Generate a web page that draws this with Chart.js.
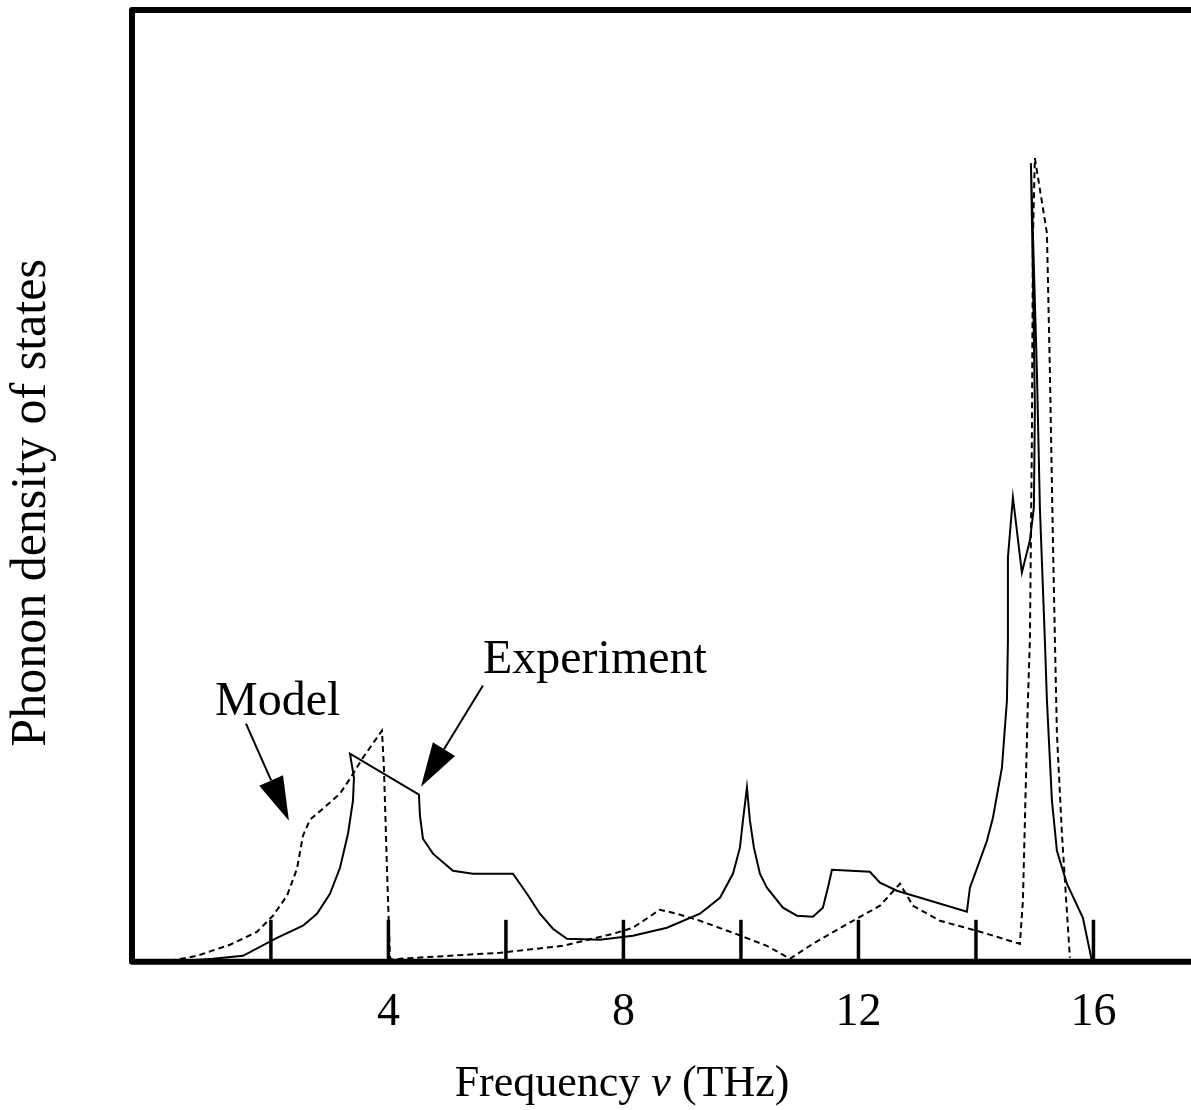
<!DOCTYPE html>
<html>
<head>
<meta charset="utf-8">
<script src="https://cdn.jsdelivr.net/npm/chart.js@4.4.0/dist/chart.umd.min.js"></script>
<style>
  html, body { margin: 0; padding: 0; background: #ffffff; }
  #wrap { width: 1191px; height: 1110px; position: relative; }
</style>
</head>
<body>
<div id="wrap"><canvas id="c" width="1191" height="1110"></canvas></div>
<script>
// ---- Data (frequency in THz, density in arbitrary units) ----
const experimentX = [0.538, 1.014, 1.525, 2.103, 2.546, 2.784, 3.005, 3.176, 3.312, 3.397, 3.414, 3.346,
  4.520, 4.537, 4.588, 4.758, 5.099, 5.439, 6.120, 6.358, 6.579, 6.800, 7.039, 7.600, 8.162, 8.741,
  9.302, 9.643, 9.864, 9.983, 10.034, 10.102, 10.153, 10.221, 10.323, 10.442, 10.715, 10.953, 11.225,
  11.395, 11.480, 11.549, 12.195, 12.366, 12.655, 13.846, 13.897, 14.016, 14.187, 14.289, 14.442,
  14.527, 14.544, 14.544, 14.629, 14.782, 14.918, 14.986, 15.003, 14.969, 14.935, 15.038, 15.088,
  15.173, 15.208, 15.293, 15.378, 15.548, 15.820, 15.973];
const experimentY = [0.011, 0.032, 0.063, 0.252, 0.379, 0.505, 0.715, 0.988, 1.346, 1.693, 1.935, 2.187,
  1.756, 1.535, 1.293, 1.136, 0.957, 0.925, 0.925, 0.715, 0.505, 0.347, 0.242, 0.231, 0.273, 0.358,
  0.505, 0.673, 0.925, 1.199, 1.483, 1.830, 1.483, 1.199, 0.925, 0.778, 0.568, 0.484, 0.473,
  0.568, 0.778, 0.967, 0.946, 0.831, 0.747, 0.526, 0.778, 0.978, 1.272, 1.514, 2.040,
  2.744, 3.375, 4.248, 4.879, 4.090, 4.427, 4.774, 5.825, 7.234, 8.391, 6.183, 4.774,
  3.375, 2.744, 1.693, 1.167, 0.820, 0.463, 0.011];

const modelX = [0.283, 0.742, 1.304, 1.763, 2.035, 2.274, 2.444, 2.546, 2.665, 2.886, 3.176, 3.346,
  3.567, 3.890, 3.924, 3.975, 4.027, 4.078, 4.197, 5.899, 6.971, 7.822, 8.162, 8.621, 8.911, 9.302,
  9.864, 10.442, 10.834, 11.225, 11.906, 12.366, 12.706, 12.927, 13.387, 14.016, 14.748, 14.799,
  14.884, 14.918, 14.952, 14.969, 15.003, 15.208, 15.259, 15.310, 15.344, 15.378, 15.463, 15.599];
const modelY = [0.011, 0.063, 0.179, 0.315, 0.484, 0.694, 0.978, 1.325, 1.493, 1.609, 1.767, 1.924,
  2.145, 2.429, 2.040, 0.988, 0.042, 0.021, 0.032, 0.095, 0.168, 0.294, 0.358, 0.547, 0.505, 0.431,
  0.305, 0.168, 0.032, 0.189, 0.431, 0.589, 0.820, 0.589, 0.431, 0.326, 0.189, 0.641,
  2.744, 3.375, 5.478, 7.582, 8.444, 7.655, 6.183, 4.427, 3.375, 2.397, 1.346, 0.042];

const tickValues = [2, 4, 6, 8, 10, 12, 14, 16];
const labeledTicks = [4, 8, 12, 16];
const xTitle = ['Frequency ', 'ν', ' (THz)'];
const yTitle = 'Phonon density of states';

// Annotations in data units: [label, textX, textY, arrowFromX, arrowFromY, arrowToX, arrowToY]
const annotations = [
  ['Model', 1.048, 2.597, 1.576, 2.503, 2.307, 1.483],
  ['Experiment', 5.609, 3.039, 5.609, 2.902, 4.554, 1.840]
];

const X_MIN = -0.364, X_MAX = 17.66, Y_MIN = 0, Y_MAX = 10;
const SERIF = "'Liberation Serif', 'Times New Roman', serif";

function toPoints(xs, ys) { return xs.map((x, i) => ({ x: x, y: ys[i] })); }

const decorPlugin = {
  id: 'decor',
  afterDatasetsDraw(chart) {
    const ctx = chart.ctx;
    const a = chart.chartArea;
    const xs = chart.scales.x, ys = chart.scales.y;
    ctx.save();
    // inward tick marks
    ctx.strokeStyle = '#000';
    ctx.lineWidth = 3.5;
    ctx.lineCap = 'butt';
    tickValues.forEach(v => {
      const px = xs.getPixelForValue(v);
      ctx.beginPath();
      ctx.moveTo(px, a.bottom);
      ctx.lineTo(px, a.bottom - 42);
      ctx.stroke();
    });
    // frame: top, left, bottom
    ctx.lineWidth = 6;
    ctx.lineJoin = 'round';
    ctx.beginPath();
    ctx.moveTo(a.right + 5, a.top);
    ctx.lineTo(a.left, a.top);
    ctx.lineTo(a.left, a.bottom);
    ctx.lineTo(a.right + 5, a.bottom);
    ctx.stroke();

    // annotations
    ctx.fillStyle = '#000';
    ctx.font = '48px ' + SERIF;
    ctx.textAlign = 'left';
    ctx.textBaseline = 'alphabetic';
    annotations.forEach(an => {
      const tx = xs.getPixelForValue(an[1]), ty = ys.getPixelForValue(an[2]);
      ctx.fillText(an[0], tx, ty);
      const x0 = xs.getPixelForValue(an[3]), y0 = ys.getPixelForValue(an[4]);
      const x1 = xs.getPixelForValue(an[5]), y1 = ys.getPixelForValue(an[6]);
      const ang = Math.atan2(y1 - y0, x1 - x0);
      const headLen = 44, headHalf = 13;
      const bx = x1 - headLen * Math.cos(ang), by = y1 - headLen * Math.sin(ang);
      ctx.lineWidth = 2;
      ctx.beginPath();
      ctx.moveTo(x0, y0);
      ctx.lineTo(bx, by);
      ctx.stroke();
      ctx.beginPath();
      ctx.moveTo(x1, y1);
      ctx.lineTo(bx + headHalf * Math.sin(ang), by - headHalf * Math.cos(ang));
      ctx.lineTo(bx - headHalf * Math.sin(ang), by + headHalf * Math.cos(ang));
      ctx.closePath();
      ctx.fill();
    });

    // x-axis title with italic nu
    ctx.textBaseline = 'alphabetic';
    const fN = '44px ' + SERIF, fI = 'italic 44px ' + SERIF;
    const widths = xTitle.map((s, i) => { ctx.font = i === 1 ? fI : fN; return ctx.measureText(s).width; });
    const total = widths.reduce((p, c) => p + c, 0);
    let cx = 622 - total / 2;
    const baseY = 1096;
    xTitle.forEach((s, i) => {
      ctx.font = i === 1 ? fI : fN;
      ctx.fillText(s, cx, baseY);
      cx += widths[i];
    });

    // y-axis title (rotated)
    ctx.translate(45, (a.top + a.bottom) / 2 + 17);
    ctx.rotate(-Math.PI / 2);
    ctx.font = '50px ' + SERIF;
    ctx.textAlign = 'center';
    ctx.fillText(yTitle, 0, 0);
    ctx.restore();
  }
};

new Chart(document.getElementById('c'), {
  type: 'line',
  data: {
    datasets: [
      {
        label: 'Experiment',
        data: toPoints(experimentX, experimentY),
        borderColor: '#000',
        borderWidth: 2,
        pointRadius: 0,
        tension: 0,
        fill: false
      },
      {
        label: 'Model',
        data: toPoints(modelX, modelY),
        borderColor: '#000',
        borderWidth: 2,
        borderDash: [6, 4],
        pointRadius: 0,
        tension: 0,
        fill: false
      }
    ]
  },
  options: {
    responsive: false,
    animation: false,
    devicePixelRatio: 1,
    layout: { padding: { left: 132, top: 10, right: 0, bottom: 45 } },
    plugins: { legend: { display: false }, tooltip: { enabled: false } },
    scales: {
      x: {
        type: 'linear',
        min: X_MIN,
        max: X_MAX,
        grid: { display: false, drawTicks: false },
        border: { display: false },
        ticks: {
          stepSize: 2,
          includeBounds: false,
          autoSkip: false,
          maxRotation: 0,
          padding: 24,
          color: '#000',
          font: { family: SERIF, size: 46 },
          callback: v => (labeledTicks.includes(v) ? String(v) : '')
        }
      },
      y: {
        type: 'linear',
        display: false,
        min: Y_MIN,
        max: Y_MAX
      }
    }
  },
  plugins: [decorPlugin]
});
</script>
</body>
</html>
